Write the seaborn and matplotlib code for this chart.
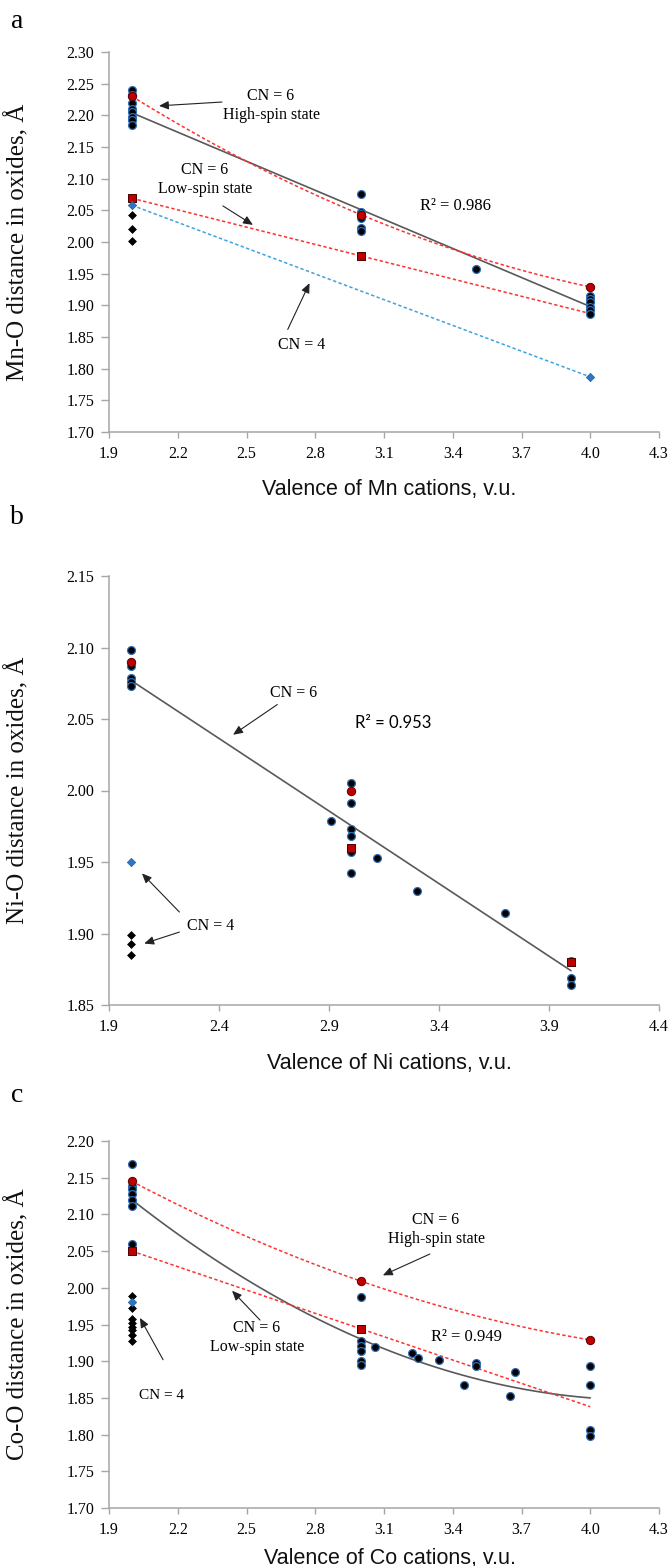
import numpy as np
import pandas as pd
import matplotlib
matplotlib.use("Agg")
import matplotlib.pyplot as plt
import seaborn as sns

# ---------------- data ----------------
# Panel a : Mn
mn_cn6_val = [2.0] * 8 + [3.0] * 6 + [3.5] + [4.0] * 6
mn_cn6_dist = [2.240, 2.232, 2.220, 2.210, 2.205, 2.198, 2.192, 2.185,
               2.075, 2.048, 2.045, 2.038, 2.022, 2.017,
               1.958,
               1.915, 1.910, 1.905, 1.898, 1.892, 1.886]
mn_hs_val = [2.0, 3.0, 4.0]
mn_hs_dist = [2.230, 2.043, 1.929]
mn_ls_val = [2.0, 3.0]
mn_ls_dist = [2.069, 1.978]
mn_cn4_val = [2.0, 2.0, 2.0]
mn_cn4_dist = [2.043, 2.020, 2.002]
mn_cn4_ref_val = [2.0, 4.0]
mn_cn4_ref_dist = [2.058, 1.787]
mn_trend_val = [2.0, 4.0]
mn_trend_dist = [2.204, 1.898]

# Panel b : Ni
ni_cn6_val = [2.0] * 5 + [2.91] + [3.0] * 6 + [3.12, 3.30, 3.70, 4.0, 4.0, 4.0]
ni_cn6_dist = [2.098, 2.087, 2.079, 2.076, 2.073,
               1.979,
               2.005, 1.991, 1.973, 1.968, 1.957, 1.942,
               1.953, 1.930, 1.914, 1.881, 1.869, 1.864]
ni_hs_val = [2.0, 3.0]
ni_hs_dist = [2.090, 2.000]
ni_ls_val = [3.0, 4.0]
ni_ls_dist = [1.960, 1.880]
ni_cn4_val = [2.0, 2.0, 2.0]
ni_cn4_dist = [1.899, 1.893, 1.885]
ni_cn4_ref_val = [2.0]
ni_cn4_ref_dist = [1.950]
ni_trend_val = [2.0, 4.0]
ni_trend_dist = [2.077, 1.874]

# Panel c : Co
co_cn6_val = [2.0] * 7 + [3.0] * 6 + [3.06, 3.22, 3.25, 3.34, 3.45, 3.50, 3.50,
                                      3.65, 3.67] + [4.0] * 4
co_cn6_dist = [2.168, 2.139, 2.134, 2.128, 2.120, 2.111, 2.059,
               1.987, 1.927, 1.921, 1.914, 1.900, 1.895,
               1.919, 1.911, 1.905, 1.902, 1.868, 1.898, 1.893,
               1.853, 1.885,
               1.893, 1.868, 1.806, 1.798]
co_hs_val = [2.0, 3.0, 4.0]
co_hs_dist = [2.145, 2.009, 1.929]
co_ls_val = [2.0, 3.0]
co_ls_dist = [2.050, 1.944]
co_cn4_val = [2.0] * 8
co_cn4_dist = [1.989, 1.973, 1.958, 1.952, 1.947, 1.942, 1.936, 1.928]
co_cn4_ref_val = [2.0]
co_cn4_ref_dist = [1.980]
co_trend_val = [2.0, 3.0, 4.0]
co_trend_dist = [2.120, 1.930, 1.850]

a_xticks = [1.9, 2.2, 2.5, 2.8, 3.1, 3.4, 3.7, 4.0, 4.3]
a_yticks = [1.70, 1.75, 1.80, 1.85, 1.90, 1.95, 2.00, 2.05, 2.10, 2.15, 2.20, 2.25, 2.30]
b_xticks = [1.9, 2.4, 2.9, 3.4, 3.9, 4.4]
b_yticks = [1.85, 1.90, 1.95, 2.00, 2.05, 2.10, 2.15]
c_xticks = [1.9, 2.2, 2.5, 2.8, 3.1, 3.4, 3.7, 4.0, 4.3]
c_yticks = [1.70, 1.75, 1.80, 1.85, 1.90, 1.95, 2.00, 2.05, 2.10, 2.15, 2.20]

# ---------------- style ----------------
sns.set_theme(style="white")
plt.rcParams["font.family"] = ["Liberation Serif", "DejaVu Serif"]

SERIF = "Liberation Serif"
SANS = "Liberation Sans"
SPINE = "#a6a6a6"
RED = "#c00000"
BLUE_EDGE = "#2f6db5"
GRAY_LINE = "#595959"
DOT_RED = "#ff3030"
DOT_BLUE = "#3fa2dc"

W, H = 670, 1566
fig = plt.figure(figsize=(W / 100, H / 100), dpi=100)


def make_axes(top, bottom, left=109, right=659):
    return fig.add_axes([left / W, 1 - bottom / H, (right - left) / W, (bottom - top) / H])


def style(ax, xticks, yticks, xlabel, ylabel, xlab_y):
    ax.set_xlim(xticks[0], xticks[-1])
    ax.set_ylim(yticks[0], yticks[-1])
    ax.set_xticks(xticks)
    ax.set_yticks(yticks)
    ax.set_xticklabels([f"{t:.1f}" for t in xticks], fontfamily=SERIF, fontsize=11.5)
    ax.set_yticklabels([f"{t:.2f}" for t in yticks], fontfamily=SERIF, fontsize=11.5)
    for s in ("top", "right"):
        ax.spines[s].set_visible(False)
    for s in ("left", "bottom"):
        ax.spines[s].set_color(SPINE)
        ax.spines[s].set_linewidth(1.1)
    ax.tick_params(axis="y", direction="out", length=5.5, width=1, color=SPINE,
                   pad=5, left=True, labelcolor="black")
    ax.tick_params(axis="x", direction="out", length=4, width=1, color=SPINE,
                   pad=6, bottom=True, labelcolor="black")
    ax.grid(False)
    ax.set_facecolor("white")
    ax.set_xlabel(xlabel, fontfamily=SANS, fontsize=15.5, color="#111111")
    ax.set_ylabel(ylabel, fontfamily=SERIF, fontsize=18, color="#111111")
    ax.xaxis.set_label_coords(0.51, xlab_y)
    ax.yaxis.set_label_coords(-0.145, 0.5)


def scatter(ax, xv, yv, kind):
    kw = dict(legend=False, zorder=5)
    if kind == "black":
        kw.update(marker="o", s=32, color="black", edgecolor=BLUE_EDGE, linewidth=0.9)
    elif kind == "hs":
        kw.update(marker="o", s=36, color=RED, edgecolor="#5a0000", linewidth=0.7, zorder=6)
    elif kind == "ls":
        kw.update(marker="s", s=34, color=RED, edgecolor="#4a0000", linewidth=0.7, zorder=6)
    elif kind == "dia":
        kw.update(marker="D", s=16, color="black", edgecolor="black", linewidth=0.5)
    elif kind == "blue":
        kw.update(marker="D", s=18, color="#2e75c4", edgecolor="#1f5fa8", linewidth=0.5, zorder=6)
    sns.scatterplot(x=xv, y=yv, ax=ax, **kw)


def trend(ax, xv, yv, deg, x0, x1, color, ls, lw):
    coef = np.polyfit(xv, yv, deg)
    xs = np.linspace(x0, x1, 80)
    df = pd.DataFrame({"x": xs, "y": np.polyval(coef, xs)})
    sns.lineplot(data=df, x="x", y="y", ax=ax, color=color, linestyle=ls,
                 linewidth=lw, zorder=4, legend=False)


def note(ax, text, xy, xytext, size=11.5, family=SERIF):
    if xy is None:
        ax.text(xytext[0], xytext[1], text, ha="center", va="center",
                fontsize=size, fontfamily=family, color="black", linespacing=1.25)
    else:
        ax.annotate(text, xy=xy, xytext=xytext, ha="center", va="center",
                    fontsize=size, fontfamily=family, color="black",
                    arrowprops=dict(arrowstyle="-|>,head_length=0.5,head_width=0.22",
                                    color="#222222", lw=0.8, shrinkA=0, shrinkB=0))


DOT = (0, (2.2, 1.6))

# ---------------- panel a ----------------
axA = make_axes(52, 432)
trend(axA, mn_trend_val, mn_trend_dist, 1, 2.0, 4.0, GRAY_LINE, "-", 1.2)
trend(axA, mn_hs_val, mn_hs_dist, 2, 2.0, 4.0, DOT_RED, DOT, 1.1)
trend(axA, mn_ls_val, mn_ls_dist, 1, 2.0, 4.0, DOT_RED, DOT, 1.1)
trend(axA, mn_cn4_ref_val, mn_cn4_ref_dist, 1, 2.0, 4.0, DOT_BLUE, DOT, 1.1)
scatter(axA, mn_cn6_val, mn_cn6_dist, "black")
scatter(axA, mn_cn4_val, mn_cn4_dist, "dia")
scatter(axA, mn_hs_val, mn_hs_dist, "hs")
scatter(axA, mn_ls_val, mn_ls_dist, "ls")
scatter(axA, mn_cn4_ref_val, mn_cn4_ref_dist, "blue")
style(axA, a_xticks, a_yticks, "Valence of Mn cations, v.u.",
      "Mn-O distance in oxides, Å", -0.125)
note(axA, "CN = 6\nHigh-spin state", None, (2.607, 2.215))
note(axA, "", (2.118, 2.215), (2.393, 2.221))
note(axA, "CN = 6\nLow-spin state", None, (2.319, 2.098))
note(axA, "", (2.528, 2.027), (2.397, 2.057))
note(axA, "CN = 4", None, (2.74, 1.838))
note(axA, "", (2.775, 1.935), (2.68, 1.862))
note(axA, "R² = 0.986", None, (3.41, 2.057), size=12)

# ---------------- panel b ----------------
axB = make_axes(576, 1005)
trend(axB, ni_trend_val, ni_trend_dist, 1, 2.0, 4.0, GRAY_LINE, "-", 1.2)
scatter(axB, ni_cn6_val, ni_cn6_dist, "black")
scatter(axB, ni_cn4_val, ni_cn4_dist, "dia")
scatter(axB, ni_hs_val, ni_hs_dist, "hs")
scatter(axB, ni_ls_val, ni_ls_dist, "ls")
scatter(axB, ni_cn4_ref_val, ni_cn4_ref_dist, "blue")
style(axB, b_xticks, b_yticks, "Valence of Ni cations, v.u.",
      "Ni-O distance in oxides, Å", -0.113)
note(axB, "CN = 6", (2.464, 2.039), (2.74, 2.068))
note(axB, "R² = 0.953", None, (3.19, 2.0475), size=12, family="Lato")
note(axB, "CN = 4", None, (2.36, 1.905))
note(axB, "", (2.05, 1.942), (2.22, 1.915))
note(axB, "", (2.06, 1.893), (2.22, 1.901))

# ---------------- panel c ----------------
axC = make_axes(1141, 1508)
trend(axC, co_trend_val, co_trend_dist, 2, 2.0, 4.0, GRAY_LINE, "-", 1.2)
trend(axC, co_hs_val, co_hs_dist, 2, 2.0, 4.0, DOT_RED, DOT, 1.1)
trend(axC, co_ls_val, co_ls_dist, 1, 2.0, 4.0, DOT_RED, DOT, 1.1)
scatter(axC, co_cn6_val, co_cn6_dist, "black")
scatter(axC, co_cn4_val, co_cn4_dist, "dia")
scatter(axC, co_hs_val, co_hs_dist, "hs")
scatter(axC, co_ls_val, co_ls_dist, "ls")
scatter(axC, co_cn4_ref_val, co_cn4_ref_dist, "blue")
style(axC, c_xticks, c_yticks, "Valence of Co cations, v.u.",
      "Co-O distance in oxides, Å", -0.108)
note(axC, "CN = 6\nHigh-spin state", None, (3.327, 2.080))
note(axC, "", (3.095, 2.017), (3.30, 2.046))
note(axC, "CN = 6\nLow-spin state", None, (2.546, 1.932))
note(axC, "", (2.437, 1.996), (2.559, 1.956))
note(axC, "CN = 4", None, (2.131, 1.853), size=11)
note(axC, "", (2.035, 1.959), (2.136, 1.902))
note(axC, "R² = 0.949", None, (3.458, 1.933), size=12)

# panel letters
for letter, ypx in (("a", 22), ("b", 517), ("c", 1096)):
    fig.text(17 / W, 1 - ypx / H, letter, fontfamily=SERIF, fontsize=20,
             ha="center", va="center", color="black")

fig.savefig("out.png", dpi=100, facecolor="white")
